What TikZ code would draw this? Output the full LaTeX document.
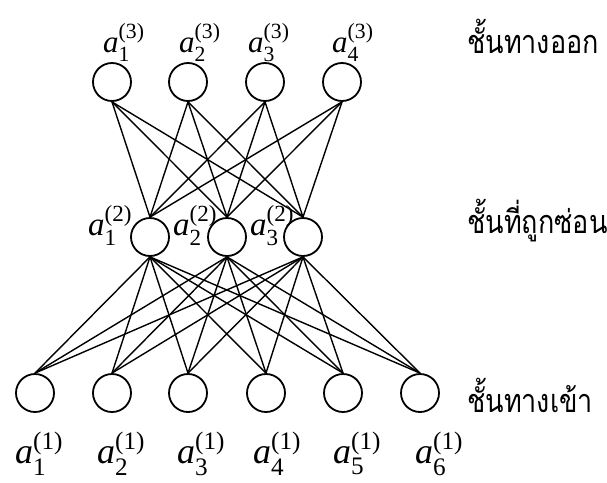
\documentclass[tikz,border=0pt]{standalone}
\usepackage{fontspec}
\usepackage{amsmath}
\usepackage{graphicx}
\setmainfont{Liberation Serif}
\newfontfamily\thaifont[Script=Thai]{Loma}
\begin{document}
\begin{tikzpicture}[x=1pt,y=-1pt,
  neuron/.style={circle,draw,line width=1.8pt,minimum size=38pt,inner sep=0pt},
  conn/.style={line width=1.4pt},
  lab/.style={anchor=base west,inner sep=0pt},
  thai/.style={anchor=base west,inner sep=0pt,font=\thaifont\fontsize{27}{27}\selectfont}]
\useasboundingbox (0,0) rectangle (607,482);
% nodes
\foreach \i/\x in {1/112,2/188,3/265,4/342} \node[neuron] (t\i) at (\x,82) {};
\foreach \i/\x in {1/150,2/227,3/303} \node[neuron] (m\i) at (\x,237) {};
\foreach \i/\x in {1/35,2/112,3/188,4/266,5/343,6/420} \node[neuron] (b\i) at (\x,393) {};
% connections
\foreach \i in {1,...,6} \foreach \j in {1,2,3} \draw[conn] (b\i.north) -- (m\j.south);
\foreach \j in {1,2,3} \foreach \k in {1,...,4} \draw[conn] (m\j.north) -- (t\k.south);
% labels
\foreach \i/\x in {1/103,2/179,3/248,4/332}
  \node[lab,font=\fontsize{31}{31}\selectfont] (lt\i) at (\x,52) {$\textit{a}_{\text{\i}}^{\text{(3)}}$};
\foreach \i/\x in {1/88,2/173,3/250}
  \node[lab,font=\fontsize{33}{33}\selectfont] (lm\i) at (\x,235) {$\textit{a}_{\text{\i}}^{\text{(2)}}$};
\foreach \i/\x in {1/15,2/97,3/177,4/253,5/333,6/415}
  \node[lab,font=\fontsize{36}{36}\selectfont] (lb\i) at (\x,463) {$\textit{a}_{\text{\i}}^{\text{(1)}}$};
\node[thai] (out) at (467,53) {\scalebox{1}[1.2]{ชั้นทางออก}};
\node[thai] (hid) at (467,233) {\scalebox{1}[1.2]{ชั้นที่ถูกซ่อน}};
\node[thai] (in) at (467,412) {\scalebox{1}[1.2]{ชั้นทางเข้า}};
\end{tikzpicture}
\end{document}
